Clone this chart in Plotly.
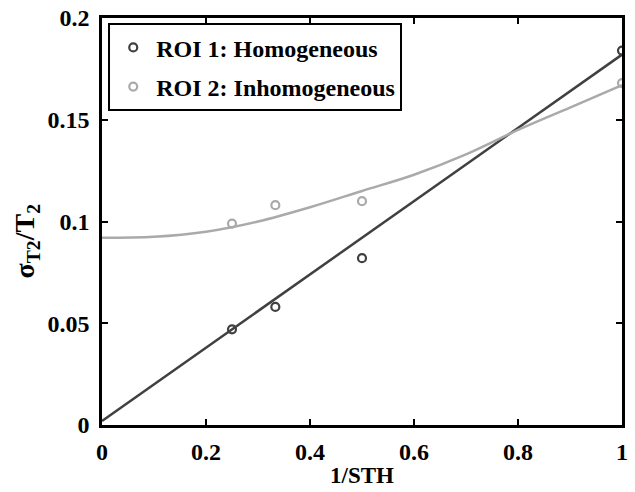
import plotly.graph_objects as go

# Measured points
x_pts = [0.25, 1/3, 0.5, 1.0]
roi1_y = [0.047, 0.058, 0.082, 0.184]
roi2_y = [0.099, 0.108, 0.110, 0.168]

# Fit lines
fit1_x = [0.0, 1.0]
fit1_y = [0.002, 0.182]
fit2_x = [0.0, 0.1, 0.2, 0.3, 0.4, 0.5, 0.6, 0.7, 0.8, 0.9, 1.0]
fit2_y = [0.092, 0.0925, 0.095, 0.100, 0.107, 0.115, 0.123, 0.133, 0.145, 0.156, 0.167]

x_ticks = [0, 0.2, 0.4, 0.6, 0.8, 1]
x_tick_labels = ["0", "0.2", "0.4", "0.6", "0.8", "1"]
y_ticks = [0, 0.05, 0.1, 0.15, 0.2]
y_tick_labels = ["0", "0.05", "0.1", "0.15", "0.2"]

dark = "#404040"
light = "#aaaaaa"
font_fam = "Liberation Serif"

fig = go.Figure()
fig.add_trace(go.Scatter(x=fit1_x, y=fit1_y, mode="lines", line=dict(color=dark, width=2.5), showlegend=False))
fig.add_trace(go.Scatter(x=fit2_x, y=fit2_y, mode="lines", line=dict(color=light, width=2.5, shape="spline"), showlegend=False))
fig.add_trace(go.Scatter(x=x_pts, y=roi1_y, mode="markers", name="<b>ROI 1: Homogeneous</b>", legendgroup="a",
                         marker=dict(symbol="circle-open", size=8, color=dark, line=dict(width=2.2))))
fig.add_trace(go.Scatter(x=x_pts, y=roi2_y, mode="markers", name="<b>ROI 2: Inhomogeneous</b>", legendgroup="b",
                         marker=dict(symbol="circle-open", size=8, color=light, line=dict(width=2.2))))

axis_common = dict(showline=True, linecolor="black", linewidth=2.5, mirror="ticks", ticks="inside",
                   ticklen=6, tickwidth=2, tickcolor="black", showgrid=False, zeroline=False,
                   ticklabeloverflow="allow", automargin=False,
                   tickfont=dict(family=font_fam, size=24, color="black"))

fig.update_layout(
    width=635, height=492,
    margin=dict(l=102, r=13, t=18, b=67),
    plot_bgcolor="white", paper_bgcolor="white",
    font=dict(family=font_fam, color="black"),
    xaxis=dict(range=[0, 1], tickvals=x_ticks, ticktext=["<b>%s</b>" % t for t in x_tick_labels],
               ticklabelstandoff=3, **axis_common),
    yaxis=dict(range=[0, 0.2], tickvals=y_ticks, ticktext=["<b>%s</b>" % t for t in y_tick_labels],
               ticklabelstandoff=5, **axis_common),
    legend=dict(x=0.012, y=0.987, xanchor="left", yanchor="top", bgcolor="white", bordercolor="black", borderwidth=2,
                font=dict(family=font_fam, size=24, color="black"), tracegroupgap=5, itemwidth=36),
    annotations=[
        dict(text="<b>1/STH</b>", xref="paper", yref="paper", x=0.5, y=-0.125, xanchor="center", yanchor="middle",
             showarrow=False, font=dict(family=font_fam, size=23, color="black")),
        dict(text="<b>σ<sub>T2</sub>/T<sub>2</sub></b>", xref="paper", yref="paper", x=-0.145, y=0.45,
             xanchor="center", yanchor="middle", textangle=-90,
             showarrow=False, font=dict(family=font_fam, size=28, color="black")),
    ],
)

fig.write_html("out.html", config={"displayModeBar": False},
               post_script="document.body.style.margin='0';document.body.style.overflow='hidden';")
